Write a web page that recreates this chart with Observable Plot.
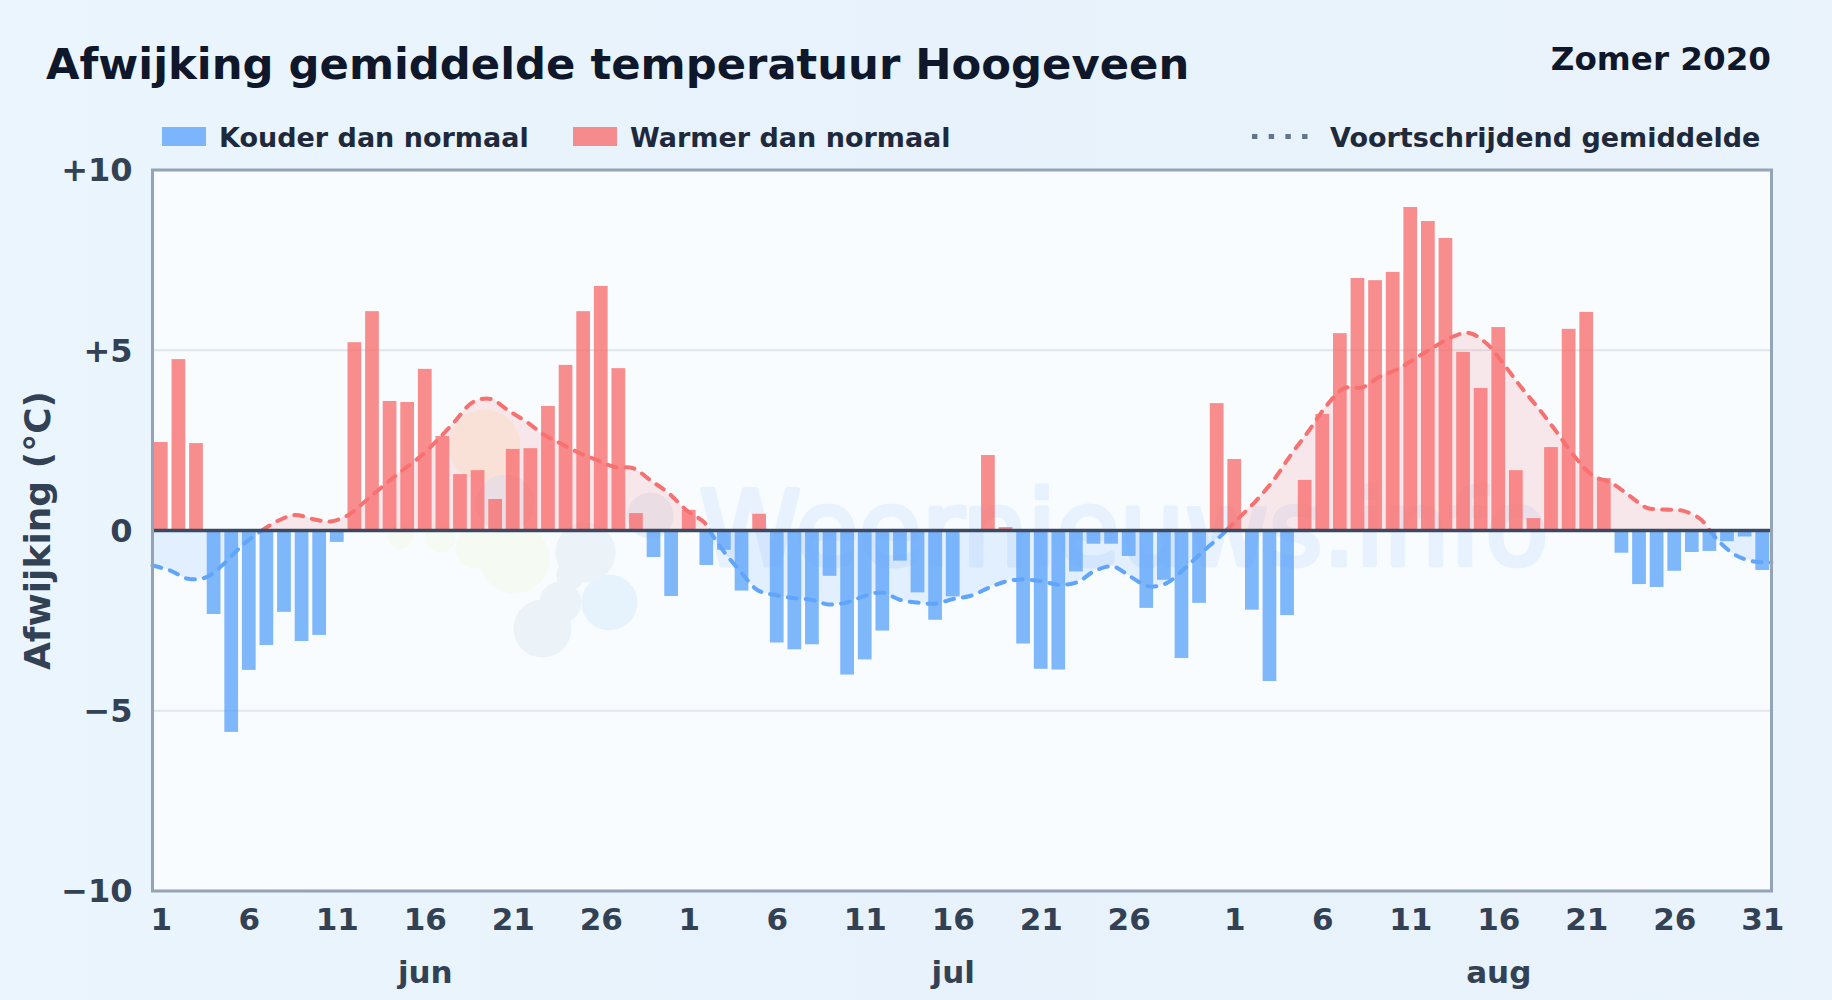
<!DOCTYPE html>
<html lang="nl">
<head>
<meta charset="utf-8">
<title>Afwijking gemiddelde temperatuur Hoogeveen</title>
<script src="https://cdn.jsdelivr.net/npm/d3@7"></script>
<script src="https://cdn.jsdelivr.net/npm/@observablehq/plot@0.6"></script>
<style>
html,body{margin:0;padding:0;width:1832px;height:1000px;overflow:hidden;
  background:linear-gradient(90deg,#ebf5fd 0%,#e7f2fc 50%,#eaf3fb 100%);
  font-family:"DejaVu Sans",sans-serif;font-weight:700}
.abs{position:absolute;line-height:1;white-space:nowrap}
#title{left:46px;top:43px;font-size:43.3px;color:#0f172a}
#sub{right:61px;top:43px;font-size:32.6px;color:#0f172a}
.lg{top:123.5px;font-size:27px;color:#1e293b}
.sw{position:absolute;top:127px;width:44px;height:19px;opacity:.8}
#dots{position:absolute;left:1252px;top:134px}
#chart{position:absolute;left:0;top:150px}
</style>
</head>
<body>
<div id="title" class="abs">Afwijking gemiddelde temperatuur Hoogeveen</div>
<div id="sub" class="abs">Zomer 2020</div>
<div class="sw" style="left:162px;background:#60a5fa"></div>
<div class="abs lg" style="left:219px">Kouder dan normaal</div>
<div class="sw" style="left:573px;background:#f87171"></div>
<div class="abs lg" style="left:630px">Warmer dan normaal</div>
<svg id="dots" width="58" height="5"><line x1="0" y1="2.5" x2="58" y2="2.5" stroke="#64748b" stroke-width="5" stroke-dasharray="5.4,11.3"/></svg>
<div class="abs lg" style="left:1330px">Voortschrijdend gemiddelde</div>
<div id="chart"></div>
<script>
// Daily deviation (°C), June–August 2020
const junValues = [2.44,4.74,2.41,-2.33,-5.6,-3.88,-3.19,-2.27,-3.08,-2.91,-0.33,5.21,6.07,3.58,3.55,4.47,2.61,1.55,1.66,0.86,2.25,2.27,3.44,4.58,6.07,6.77,4.49,0.47,-0.75,-1.83];
const julValues = [0.56,-0.97,-0.55,-1.68,0.45,-3.12,-3.31,-3.17,-1.27,-4.01,-3.59,-2.79,-0.85,-1.73,-2.49,-1.84,-0.03,2.08,0.08,-3.15,-3.85,-3.87,-1.15,-0.38,-0.38,-0.72,-2.16,-1.38,-3.55,-2.02,3.52];
const augValues = [1.97,-2.21,-4.19,-2.36,1.39,3.22,5.46,6.99,6.93,7.16,8.96,8.57,8.1,4.94,3.94,5.63,1.66,0.33,2.3,5.58,6.05,1.44,-0.63,-1.5,-1.58,-1.13,-0.61,-0.58,-0.31,-0.18,-1.11];
// Moving average, one value per day
const movingAvg = [-0.97,-1.11,-1.34,-1.3,-0.93,-0.43,-0.05,0.26,0.43,0.32,0.25,0.43,0.83,1.25,1.65,2.03,2.5,3.03,3.56,3.65,3.33,3.02,2.66,2.4,2.15,1.95,1.76,1.73,1.39,1.04,0.57,0.23,-0.51,-1.11,-1.65,-1.79,-1.87,-1.92,-2.05,-2.0,-1.82,-1.72,-1.92,-2.0,-2.03,-1.9,-1.81,-1.59,-1.41,-1.36,-1.41,-1.51,-1.43,-1.11,-1.0,-1.29,-1.55,-1.46,-1.06,-0.6,-0.17,0.32,0.81,1.39,2.11,2.77,3.47,3.95,3.97,4.27,4.48,4.78,5.08,5.36,5.48,5.18,4.58,3.93,3.33,2.68,2.01,1.51,1.32,0.97,0.63,0.58,0.55,0.32,-0.28,-0.69,-0.86,-0.89];

const values = [...junValues,...julValues,...augValues];
const nDays = values.length;
const bars = values.map((v,i)=>({i,v}));

// Tick labels
const dayTicks = [[0,"1"],[5,"6"],[10,"11"],[15,"16"],[20,"21"],[25,"26"],[30,"1"],[35,"6"],[40,"11"],[45,"16"],[50,"21"],[55,"26"],[61,"1"],[66,"6"],[71,"11"],[76,"16"],[81,"21"],[86,"26"],[91,"31"]];
const monthTicks = [[15,"jun"],[45,"jul"],[76,"aug"]];
const yTicks = [-10,-5,0,5,10];
const yLabels = {"-10":"−10","-5":"−5","0":"0","5":"+5","10":"+10"};

// Moving-average runs split at the zero crossings
const avgPts = movingAvg.map((v,i)=>({x:i*nDays/(nDays-1),y:v}));
const runs = [];
let seg = 0;
avgPts.forEach((p,k)=>{
  if(k>0){
    const q = avgPts[k-1];
    if(q.y*p.y<0){
      const c = q.x+(p.x-q.x)*q.y/(q.y-p.y);
      runs.push({x:c,y:0,seg,warm:q.y>0});
      seg++;
      runs.push({x:c,y:0,seg,warm:p.y>0});
    }
  }
  runs.push({x:p.x,y:p.y,seg,warm:p.y>0});
});
const warmRuns = runs.filter(d=>d.warm), coldRuns = runs.filter(d=>!d.warm);

// Faint watermark
const wmText = ["Weernieuws.info"];
const logoDots = [
  {px:[484,445],r:36,c:"#f9f5ea"},
  {px:[505,503],r:29,c:"#e8f0f7"},
  {px:[650,515],r:23,c:"#e8f0f7"},
  {px:[400,535],r:13,c:"#f5faf3"},
  {px:[440,537],r:15,c:"#f5faf3"},
  {px:[475,548],r:20,c:"#f5faf3"},
  {px:[514,558],r:35,c:"#f5faf3"},
  {px:[585,552],r:30,c:"#ebf2f8"},
  {px:[570,575],r:14,c:"#ebf2f8"},
  {px:[542,628],r:29,c:"#ebf2f8"},
  {px:[560,602],r:21,c:"#ebf2f8"},
  {px:[609,602],r:28,c:"#e7f3fc"}
].map(d=>({x:(d.px[0]-152)/17.6,y:(530-d.px[1])/36.05,r:d.r,c:d.c}));

const ink = "#334155";
const chart = Plot.plot({
  width:1832, height:860,
  marginLeft:152, marginRight:61, marginTop:19.5, marginBottom:119.5,
  style:{background:"transparent",fontFamily:"'DejaVu Sans',sans-serif",fontWeight:700,overflow:"visible"},
  x:{domain:[0,nDays],axis:null},
  y:{domain:[-10,10],axis:null},
  r:{type:"identity"},
  marks:[
    Plot.frame({fill:"#f8fcff",stroke:null}),
    Plot.ruleY([-5,5],{stroke:"#dfe6ec",strokeWidth:1.8}),
    Plot.dot(logoDots,{x:"x",y:"y",r:"r",fill:"c",stroke:null}),
    Plot.text(wmText,{x:55.2,y:-0.95,text:d=>d,textAnchor:"middle",lineAnchor:"bottom",fontSize:103,fontWeight:400,fill:"#3b82f6",stroke:"#3b82f6",strokeWidth:5,opacity:.08}),
    Plot.areaY(warmRuns,{x:"x",y1:0,y2:"y",z:"seg",fill:"#f87171",fillOpacity:.15,curve:"catmull-rom"}),
    Plot.areaY(coldRuns,{x:"x",y1:0,y2:"y",z:"seg",fill:"#60a5fa",fillOpacity:.15,curve:"catmull-rom"}),
    Plot.line(warmRuns,{x:"x",y:"y",z:"seg",stroke:"#f87171",strokeWidth:4,strokeDasharray:"9,9",strokeLinecap:"round",curve:"catmull-rom"}),
    Plot.line(coldRuns,{x:"x",y:"y",z:"seg",stroke:"#60a5fa",strokeWidth:4,strokeDasharray:"9,9",strokeLinecap:"round",curve:"catmull-rom"}),
    Plot.rectY(bars.filter(d=>d.v>0),{x1:d=>d.i+.11,x2:d=>d.i+.89,y:"v",fill:"#f87171",fillOpacity:.8}),
    Plot.rectY(bars.filter(d=>d.v<0),{x1:d=>d.i+.11,x2:d=>d.i+.89,y:"v",fill:"#60a5fa",fillOpacity:.8}),
    Plot.ruleY([0],{stroke:"#3b4a60",strokeWidth:3.4}),
    Plot.frame({stroke:"#94a3b8",strokeWidth:3}),
    Plot.axisY({ticks:yTicks,tickSize:0,tickPadding:20,fontSize:32,fill:ink,label:null,dy:1,tickFormat:d=>yLabels[d]}),
    Plot.axisX({ticks:dayTicks.map(d=>d[0]+.5),tickSize:0,tickPadding:17,fontSize:31,fill:ink,label:null,
      tickFormat:p=>new Map(dayTicks.map(d=>[d[0]+.5,d[1]])).get(p)}),
    Plot.axisX({ticks:monthTicks.map(d=>d[0]+.5),tickSize:0,tickPadding:70,fontSize:31,fill:ink,label:null,
      tickFormat:p=>new Map(monthTicks.map(d=>[d[0]+.5,d[1]])).get(p)}),
    Plot.text(["Afwijking (°C)"],{frameAnchor:"left",dx:-114,rotate:-90,textAnchor:"middle",text:d=>d,fontSize:36,fill:ink})
  ]
});
document.getElementById("chart").appendChild(chart);
</script>
</body>
</html>
